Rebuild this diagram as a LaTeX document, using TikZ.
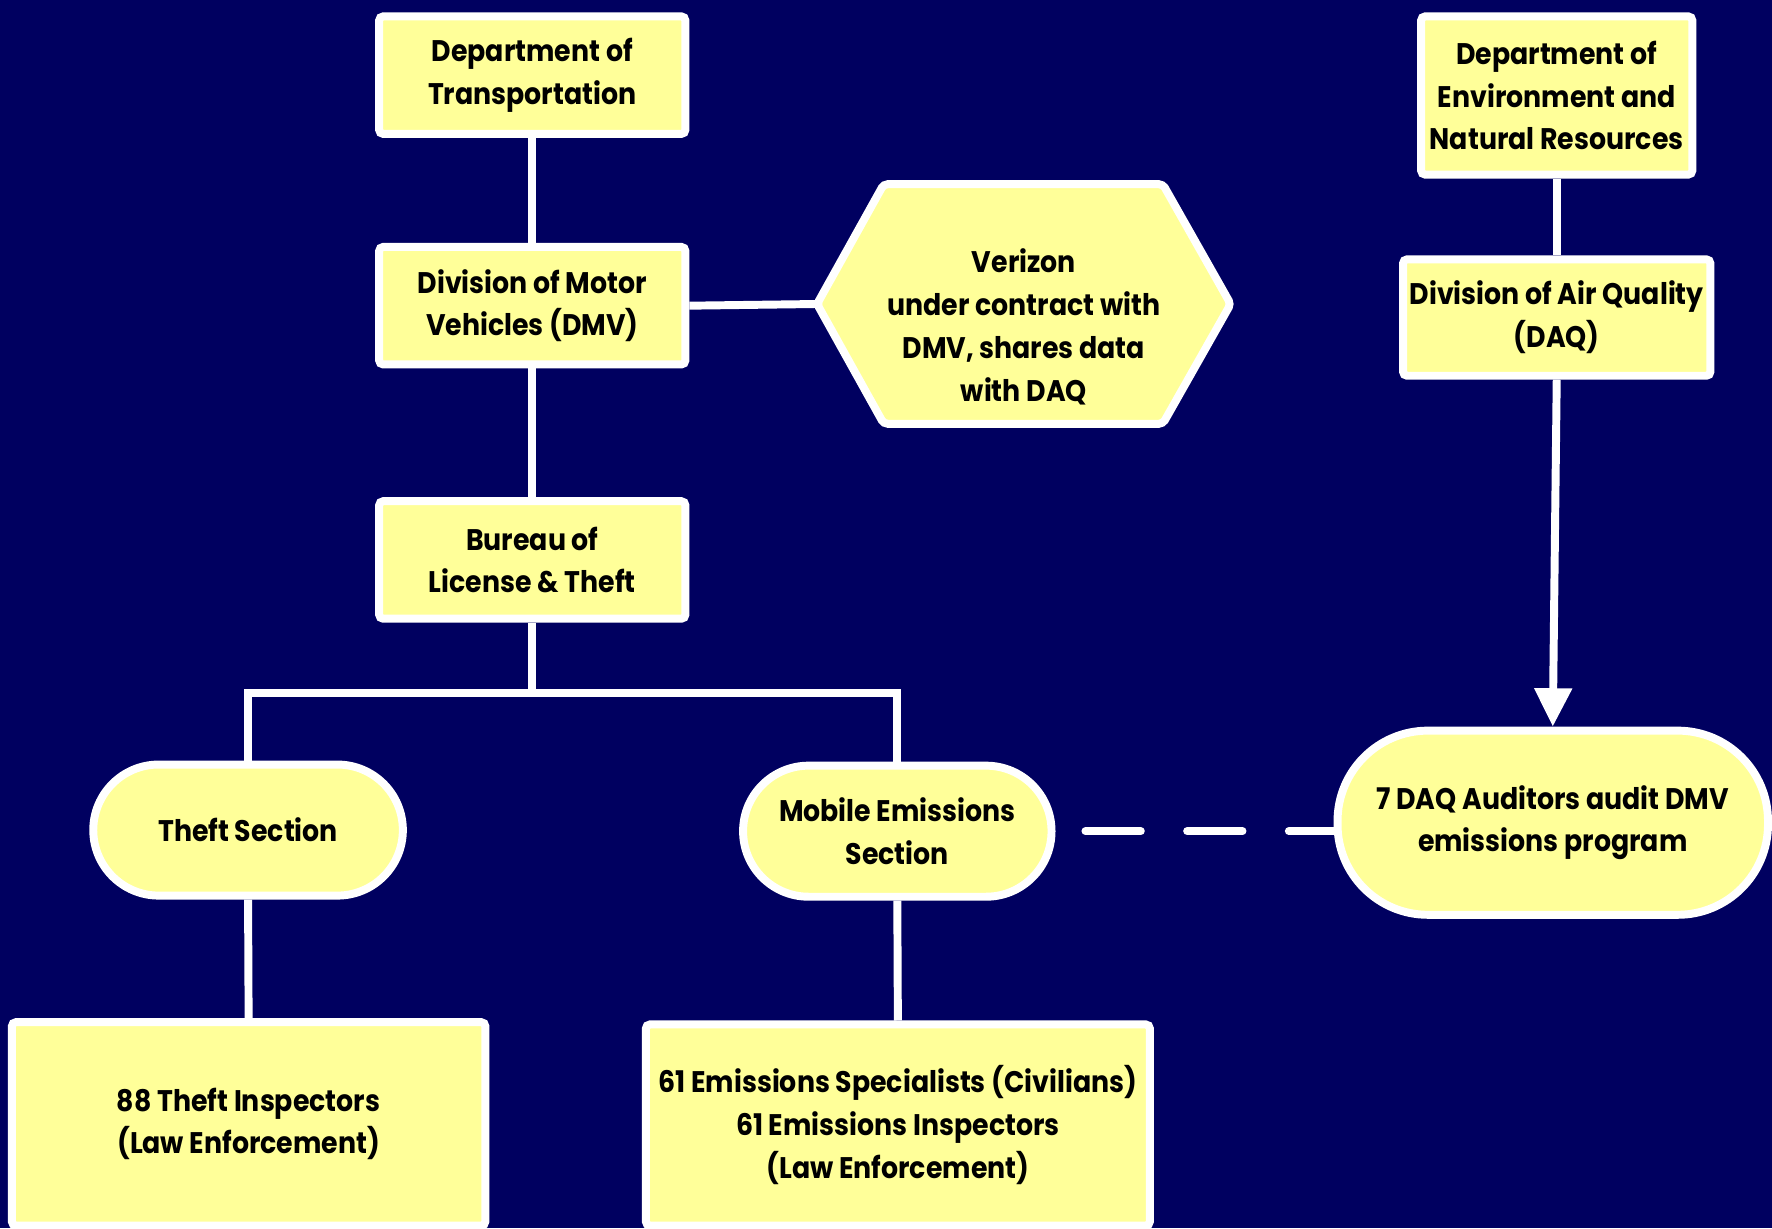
\documentclass[tikz,border=0pt]{standalone}
\usepackage{fontspec}
\setmainfont{Poppins}[FakeStretch=0.9]
\usepackage{tikz}
\usetikzlibrary{arrows.meta}
\definecolor{navy}{HTML}{000060}
\definecolor{paleyellow}{HTML}{FFFF99}

\begin{document}
\begin{tikzpicture}[x=0.02cm, y=-0.02cm,
    box/.style={draw=white, line width=4pt, fill=paleyellow, align=center,
      font=\bfseries\fontsize{15}{21.6}\selectfont, inner sep=0pt, rounded corners=2pt},
    pill/.style={box, rounded corners=1.16cm},
    link/.style={white, line width=4pt}]
    \fill[navy] (0,0) rectangle (1568,1087);
    \useasboundingbox (0,0) rectangle (1568,1087);

    % DMV side
    \node[box, minimum width=5.42cm, minimum height=2.08cm] (dot) at (471,66.5) {Department of\\Transportation};
    \node[box, minimum width=5.42cm, minimum height=2.08cm] (dmv) at (471,270.5) {Division of Motor\\Vehicles (DMV)};
    \node[box, minimum width=5.42cm, minimum height=2.08cm] (blt) at (471,495.5) {Bureau of\\License \& Theft};

    % Verizon
    \draw[box] (723,269) -- (782,163) -- (1029,163) -- (1089,269) -- (1029,375) -- (782,375) -- cycle;
    \coordinate (vzw) at (723,269);
    \node[align=center, font=\bfseries\fontsize{15}{21.6}\selectfont] (vz) at (906,289) {Verizon\\under contract with\\DMV, shares data\\with DAQ};

    % DAQ side
    \node[box, minimum width=4.8cm, minimum height=2.8cm] (denr) at (1377.5,84.5) {Department of\\Environment and\\Natural Resources};
    \node[box, minimum width=5.44cm, minimum height=2.06cm] (daq) at (1377.5,281) {Division of Air Quality\\(DAQ)};

    \node[pill, minimum width=5.48cm, minimum height=2.32cm] (theft) at (219.5,734.5) {Theft Section};
    \node[pill, minimum width=5.46cm, minimum height=2.32cm] (mes) at (794,735.5) {Mobile Emissions\\Section};
    \node[box, rounded corners=1.6cm, minimum width=7.62cm, minimum height=3.26cm] (aud) at (1374,728) {7 DAQ Auditors audit DMV\\emissions program};

    \node[box, minimum width=8.38cm, minimum height=3.6cm] (ti) at (220,994.5) {88 Theft Inspectors\\(Law Enforcement)};
    \node[box, minimum width=8.92cm, minimum height=3.56cm] (es) at (794.5,995.5) {61 Emissions Specialists (Civilians)\\61 Emissions Inspectors\\(Law Enforcement)};

    \coordinate (split) at (471,613);

    \draw[link] (dot.south) -- (dmv.north);
    \draw[link] (dmv.east) -- (vzw);
    \draw[link] (dmv.south) -- (blt.north);
    \draw[link] (blt.south) -- (split);
    \draw[link] (theft.north) |- (split) -| (mes.north);
    \draw[link] (theft.south) -- (ti.north);
    \draw[link] (mes.south) -- (es.north);
    \draw[link] (denr.south) -- (daq.north);
    \draw[link, -{Triangle[width=0.64cm, length=0.68cm]}] (daq.south) -- (aud.north);
    \draw[link, line cap=round, dash pattern=on 0.98cm off 0.82cm, dash phase=1.27cm] (mes.east) -- (mes.east -| aud.west);
\end{tikzpicture}
\end{document}
